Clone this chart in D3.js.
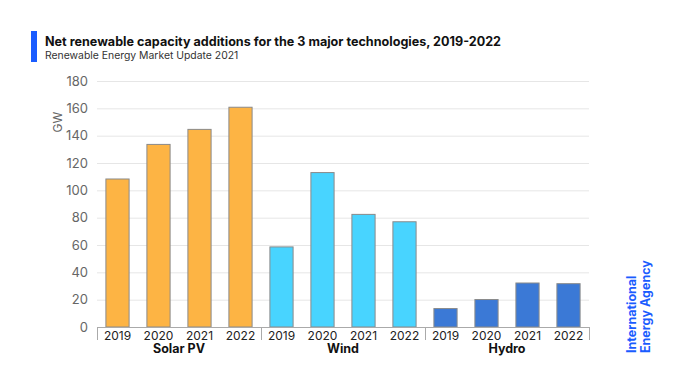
<!DOCTYPE html>
<html><head><meta charset="utf-8">
<script src="https://cdn.jsdelivr.net/npm/d3@7"></script>
<style>body{margin:0;background:#fff}svg{display:block}text{font-family:Inter,"Noto Sans",sans-serif}</style>
</head><body><svg id="c" width="680" height="383"></svg>
<script>
const groups = ["Solar PV","Wind","Hydro"];
const years = ["2019","2020","2021","2022"];
const solarValues = [108.3, 133.6, 144.6, 160.8];
const windValues = [58.6, 113.0, 82.4, 77.0];
const hydroValues = [13.5, 20.1, 32.2, 31.7];
const yTicks = [0,20,40,60,80,100,120,140,160,180];
const colors = {"Solar PV":"#FDB444","Wind":"#48D4FF","Hydro":"#3B79D6"};

const series = {"Solar PV":solarValues,"Wind":windValues,"Hydro":hydroValues};
const data = [];
groups.forEach(g => years.forEach((yr,i) => data.push({g, yr, key:g+"|"+yr, v:series[g][i]})));

const svg = d3.select("#c");
const L = 97, R = 589, T = 81, B = 327;
const x = d3.scaleBand().domain(data.map(d=>d.key)).range([L,R]).paddingInner(0.41).paddingOuter(0.205);
const y = d3.scaleLinear().domain([0,180]).range([B,T]);

// title
svg.append("rect").attr("x",31).attr("y",31).attr("width",6).attr("height",31).attr("fill","#1a5cff");
svg.append("text").attr("x",45).attr("y",46).attr("font-size",12.6).attr("font-weight",700).attr("fill","#111")
  .text("Net renewable capacity additions for the 3 major technologies, 2019-2022");
svg.append("text").attr("x",45).attr("y",59).attr("font-size",10.4).attr("fill","#333")
  .text("Renewable Energy Market Update 2021");

// grid
svg.append("g").selectAll("line").data(yTicks.filter(t=>t>0)).join("line")
  .attr("x1",L).attr("x2",R).attr("y1",d=>y(d)+0.5).attr("y2",d=>y(d)+0.5)
  .attr("stroke","#e6e6e6").attr("stroke-width",1);

// y axis labels
const ya = svg.append("g").attr("transform",`translate(${L},0)`)
  .call(d3.axisLeft(y).tickValues(yTicks).tickSize(0).tickPadding(9));
ya.select(".domain").remove();
ya.selectAll("text").attr("font-size",13).attr("fill","#666").attr("font-family","Inter,'Noto Sans',sans-serif");

svg.append("text").attr("transform","translate(62,122) rotate(-90)").attr("text-anchor","middle")
  .attr("font-size",12).attr("fill","#666").text("GW");

// bars
svg.append("g").selectAll("rect").data(data).join("rect")
  .attr("x",d=>x(d.key)+0.5).attr("width",x.bandwidth()-1)
  .attr("y",d=>y(d.v)).attr("height",d=>B-y(d.v))
  .attr("fill",d=>colors[d.g]).attr("stroke","#8a8a8a").attr("stroke-width",1);

// x axis
const xa = svg.append("g").attr("transform",`translate(0,${B})`)
  .call(d3.axisBottom(x).tickSize(0).tickPadding(4).tickFormat(k=>k.split("|")[1]));
xa.select(".domain").attr("stroke","#aaa");
xa.selectAll("text").attr("font-size",12).attr("fill","#222").attr("font-family","Inter,'Noto Sans',sans-serif");

// group separators
const bounds = [0,4,8,12].map(i => L + i*(R-L)/12);
svg.append("g").selectAll("line").data(bounds).join("line")
  .attr("x1",d=>Math.round(d)+0.5).attr("x2",d=>Math.round(d)+0.5).attr("y1",B).attr("y2",B+13)
  .attr("stroke","#aaa");

// group labels
svg.append("g").selectAll("text").data(groups).join("text")
  .attr("x",(g,i)=>(bounds[i]+bounds[i+1])/2).attr("y",B+26).attr("text-anchor","middle")
  .attr("font-size",12.5).attr("font-weight",700).attr("fill","#111").text(d=>d);

// logo
const logo = svg.append("g").attr("transform","translate(636,353) rotate(-90)");
logo.append("text").attr("x",0).attr("y",0).attr("font-size",12.5).attr("font-weight",700)
  .attr("fill","#1a5cff").attr("font-family","'Liberation Sans',Arial,sans-serif").text("International");
logo.append("text").attr("x",0).attr("y",14).attr("font-size",12.5).attr("font-weight",700)
  .attr("fill","#1a5cff").attr("font-family","'Liberation Sans',Arial,sans-serif").text("Energy Agency");
</script></body></html>
